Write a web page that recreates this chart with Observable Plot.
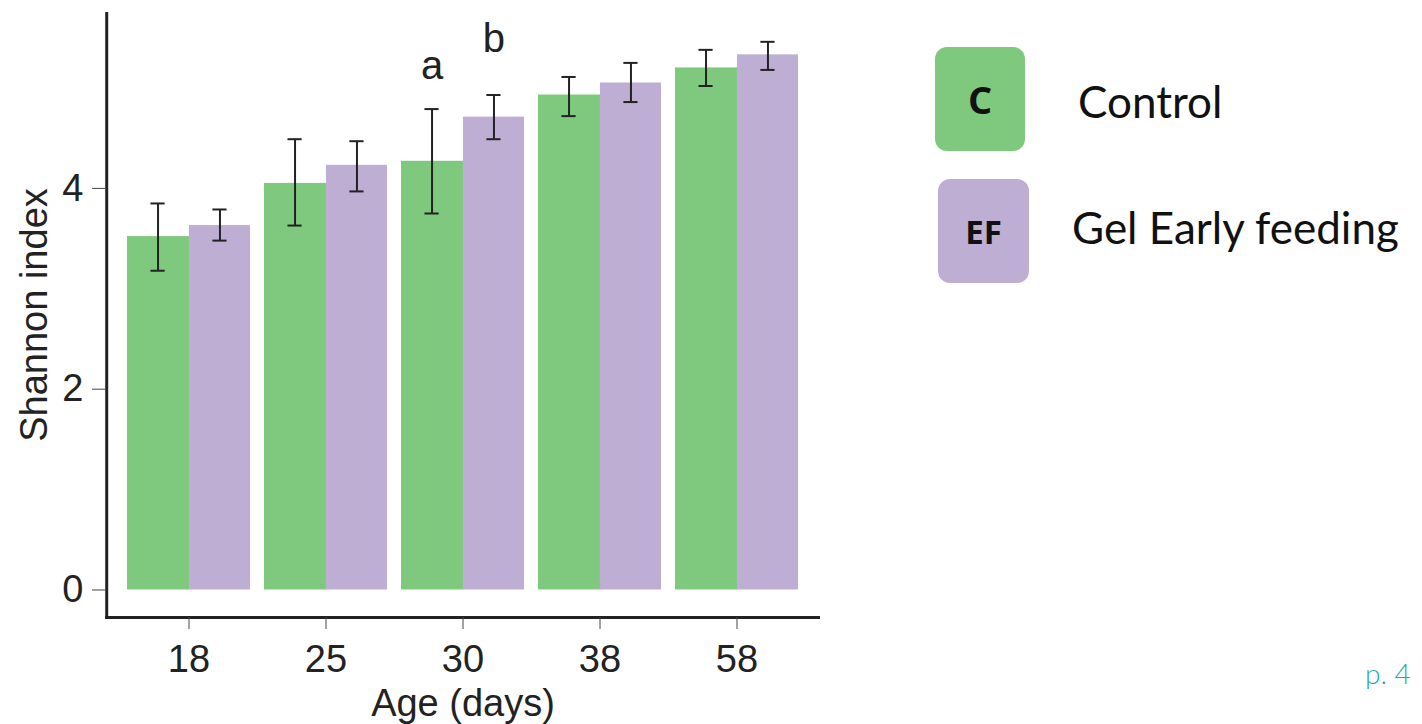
<!DOCTYPE html>
<html><head><meta charset="utf-8">
<script src="https://cdn.jsdelivr.net/npm/d3@7"></script>
<script src="https://cdn.jsdelivr.net/npm/@observablehq/plot@0.6"></script>
<style>
body{margin:0;background:#fff;}
#wrap{position:relative;width:1422px;height:724px;overflow:hidden;background:#fff;}
#chart{position:absolute;left:0;top:0;}
.box{position:absolute;border-radius:12px;display:flex;align-items:center;justify-content:center;font-family:"Open Sans",sans-serif;font-weight:700;color:#111;}
.lab{position:absolute;font-family:Lato,"Open Sans",sans-serif;font-size:44px;color:#111;line-height:1;white-space:nowrap;}
#page{position:absolute;left:1365px;top:659px;font-family:Lato,sans-serif;font-weight:300;font-size:28px;color:#1fa9a9;line-height:1;}
</style></head><body>
<div id="wrap"><div id="chart"></div>
<div class="box" id="b0" style="left:935px;top:47px;width:90px;height:104px;font-size:38px;"></div>
<div class="box" id="b1" style="left:938px;top:179px;width:91px;height:104px;font-size:33px;"></div>
<div class="lab" id="l0" style="left:1078px;top:79px;"></div>
<div class="lab" id="l1" style="left:1072px;top:205px;"></div>
<div id="page">p. 4</div>
</div>
<script>
const ages = ["18", "25", "30", "38", "58"];
const groups = ["C", "EF"];
const groupNames = ["Control", "Gel Early feeding"];
const colors = ["#7fc97f", "#beaed4"];
const controlMean = [3.52, 4.05, 4.27, 4.93, 5.20];
const controlLow  = [3.18, 3.63, 3.75, 4.72, 5.02];
const controlHigh = [3.85, 4.49, 4.79, 5.11, 5.38];
const efMean = [3.63, 4.23, 4.71, 5.05, 5.33];
const efLow  = [3.48, 3.97, 4.49, 4.86, 5.18];
const efHigh = [3.79, 4.47, 4.93, 5.25, 5.46];
const yTicks = [0, 2, 4];
const letterAges = ["30", "30"];
const letterGroups = ["C", "EF"];
const letterText = ["a", "b"];
const letterY = [5.22, 5.49];

const rows = [];
ages.forEach((a, i) => {
  rows.push({age: a, group: "C", mean: controlMean[i], low: controlLow[i], high: controlHigh[i]});
  rows.push({age: a, group: "EF", mean: efMean[i], low: efLow[i], high: efHigh[i]});
});
const letters = letterText.map((t, i) => ({age: letterAges[i], group: letterGroups[i], label: t, y: letterY[i]}));

const W = 1422, H = 724;
const mL = 105, mR = 602, mT = 12, mB = 107;
const pIn = 0.1, pOut = 0.148;
const step = (W - mL - mR) / (ages.length - pIn + 2 * pOut);
const bw = step * (1 - pIn);
const half = bw / 2;
const capW = 15;
const capInset = (bw - capW) / 2;
const yMin = -0.274, yMax = 5.752;
const leftShift = -(pOut * step + bw / 2);

const off = g => (g === "C" ? -half / 2 : half / 2);
const marks = [];
groups.forEach((g, gi) => {
  const d = rows.filter(r => r.group === g);
  marks.push(Plot.barY(d, {x: "age", y: "mean", fill: colors[gi],
    insetLeft: gi === 0 ? 0 : half, insetRight: gi === 0 ? half - 1.5 : 0}));
});
groups.forEach(g => {
  const d = rows.filter(r => r.group === g);
  marks.push(Plot.ruleX(d, {x: "age", y1: "low", y2: "high", dx: off(g), stroke: "#222", strokeWidth: 2}));
  marks.push(Plot.tickY(d, {x: "age", y: "low", dx: off(g), insetLeft: capInset, insetRight: capInset, stroke: "#222", strokeWidth: 2}));
  marks.push(Plot.tickY(d, {x: "age", y: "high", dx: off(g), insetLeft: capInset, insetRight: capInset, stroke: "#222", strokeWidth: 2}));
});
groups.forEach(g => {
  const d = letters.filter(r => r.group === g);
  marks.push(Plot.text(d, {x: "age", y: "y", text: "label", dx: off(g), fontSize: 40, fill: "#222"}));
});
// axis lines
marks.push(Plot.ruleY([yMin], {stroke: "#222", strokeWidth: 3}));
marks.push(Plot.ruleX([ages[0]], {dx: leftShift, y1: yMin, y2: yMax, stroke: "#222", strokeWidth: 3}));
marks.push(Plot.axisY({ticks: yTicks, tickSize: 13, tickPadding: 9, tickFormat: d3.format("d"),
  label: "Shannon index", labelAnchor: "center", labelOffset: 85, labelArrow: "none", stroke: "#444", color: "#222"}));
marks.push(Plot.axisX({tickSize: 12, tickPadding: 16, label: "Age (days)", labelAnchor: "center", labelArrow: "none", labelOffset: 98, stroke: "#444", color: "#222"}));

const plot = Plot.plot({
  width: W, height: H,
  marginLeft: mL, marginRight: mR, marginTop: mT, marginBottom: mB,
  style: {fontFamily: "'Liberation Sans', Arial, sans-serif", fontSize: "38px", color: "#222", background: "transparent"},
  x: {domain: ages, type: "band", paddingInner: pIn, paddingOuter: pOut},
  y: {domain: [yMin, yMax]},
  marks
});
document.getElementById("chart").appendChild(plot);

document.getElementById("b0").style.background = colors[0];
document.getElementById("b1").style.background = colors[1];
document.getElementById("b0").textContent = groups[0];
document.getElementById("b1").textContent = groups[1];
document.getElementById("l0").textContent = groupNames[0];
document.getElementById("l1").textContent = groupNames[1];
</script>
</body></html>
